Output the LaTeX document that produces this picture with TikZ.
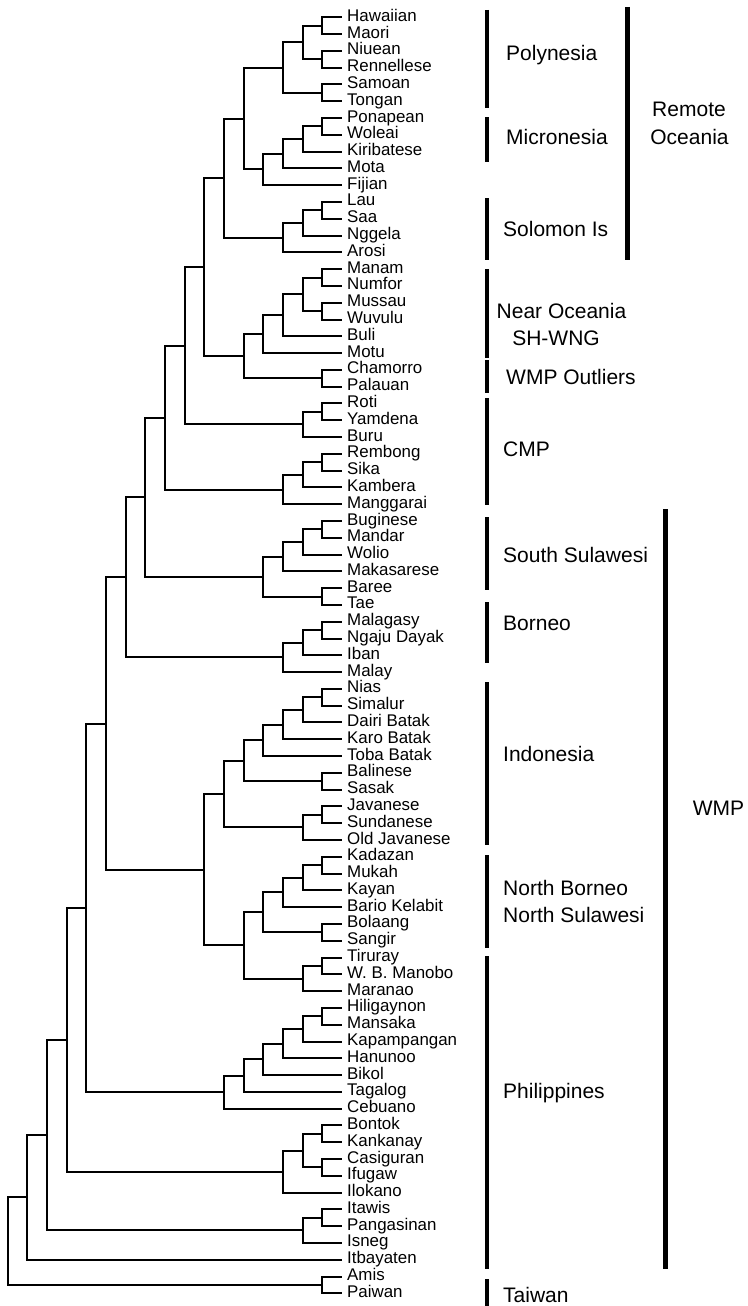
\documentclass[tikz,border=0pt]{standalone}
\usepackage{fontspec}
\setmainfont{Liberation Sans}
\usetikzlibrary{calc}
\newcommand\treejoin[4]{%
  \path let \p1=($(#3)!0.5!(#4)$) in coordinate (#1) at ({(7.5+19.67*#2)*1pt},\y1);
  \draw[branch] (#3) -| (#1) |- (#4);}
\begin{document}
\begin{tikzpicture}[x=1pt,y=-1pt,
  branch/.style={line width=2pt},
  leaf/.style={anchor=base west, inner sep=0pt, font=\fontsize{16.9}{16.9}\selectfont},
  grp/.style={anchor=base west, inner sep=0pt, font=\fontsize{21}{21}\selectfont},
  grpc/.style={anchor=base, inner sep=0pt, font=\fontsize{21}{21}\selectfont},
  bar/.style={line width=4.5pt}]
\fill[white] (0,0) rectangle (747,1306);
\useasboundingbox (0,0) rectangle (747,1306);

\foreach \nm [count=\i] in {Hawaiian,Maori,Niuean,Rennellese,Samoan,Tongan,Ponapean,Woleai,Kiribatese,Mota,Fijian,Lau,Saa,Nggela,Arosi,Manam,Numfor,Mussau,Wuvulu,Buli,Motu,Chamorro,Palauan,Roti,Yamdena,Buru,Rembong,Sika,Kambera,Manggarai,Buginese,Mandar,Wolio,Makasarese,Baree,Tae,Malagasy,Ngaju Dayak,Iban,Malay,Nias,Simalur,Dairi Batak,Karo Batak,Toba Batak,Balinese,Sasak,Javanese,Sundanese,Old Javanese,Kadazan,Mukah,Kayan,Bario Kelabit,Bolaang,Sangir,Tiruray,W. B. Manobo,Maranao,Hiligaynon,Mansaka,Kapampangan,Hanunoo,Bikol,Tagalog,Cebuano,Bontok,Kankanay,Casiguran,Ifugaw,Ilokano,Itawis,Pangasinan,Isneg,Itbayaten,Amis,Paiwan}{
  \coordinate (l\i) at (341.9,{17.3+16.79*(\i-1)});
  \node[leaf] (t\i) at (347,{21.3+16.79*(\i-1)}) {\nm};
}

% Polynesia
\treejoin{a1}{16}{l1}{l2}
\treejoin{a2}{16}{l3}{l4}
\treejoin{a3}{15}{a1}{a2}
\treejoin{a4}{16}{l5}{l6}
\treejoin{a5}{14}{a3}{a4}
% Micronesia
\treejoin{b1}{16}{l7}{l8}
\treejoin{b2}{15}{b1}{l9}
\treejoin{b3}{14}{b2}{l10}
\treejoin{b4}{13}{b3}{l11}
\treejoin{c1}{12}{a5}{b4}
% Solomon
\treejoin{s1}{16}{l12}{l13}
\treejoin{s2}{15}{s1}{l14}
\treejoin{s3}{14}{s2}{l15}
\treejoin{r1}{11}{c1}{s3}
% Near Oceania
\treejoin{n1}{16}{l16}{l17}
\treejoin{n2}{16}{l18}{l19}
\treejoin{n3}{15}{n1}{n2}
\treejoin{n4}{14}{n3}{l20}
\treejoin{n5}{13}{n4}{l21}
\treejoin{w1}{16}{l22}{l23}
\treejoin{n6}{12}{n5}{w1}
\treejoin{r2}{10}{r1}{n6}
% CMP
\treejoin{m1}{16}{l24}{l25}
\treejoin{m2}{15}{m1}{l26}
\treejoin{r3}{9}{r2}{m2}
\treejoin{m3}{16}{l27}{l28}
\treejoin{m4}{15}{m3}{l29}
\treejoin{m5}{14}{m4}{l30}
\treejoin{r4}{8}{r3}{m5}
% South Sulawesi
\treejoin{q1}{16}{l31}{l32}
\treejoin{q2}{15}{q1}{l33}
\treejoin{q3}{14}{q2}{l34}
\treejoin{q4}{16}{l35}{l36}
\treejoin{q5}{13}{q3}{q4}
\treejoin{r5}{7}{r4}{q5}
% Borneo
\treejoin{o1}{16}{l37}{l38}
\treejoin{o2}{15}{o1}{l39}
\treejoin{o3}{14}{o2}{l40}
\treejoin{r6}{6}{r5}{o3}
% Indonesia
\treejoin{i1}{16}{l41}{l42}
\treejoin{i2}{15}{i1}{l43}
\treejoin{i3}{14}{i2}{l44}
\treejoin{i4}{13}{i3}{l45}
\treejoin{i5}{16}{l46}{l47}
\treejoin{i6}{12}{i4}{i5}
\treejoin{i7}{16}{l48}{l49}
\treejoin{i8}{15}{i7}{l50}
\treejoin{i9}{11}{i6}{i8}
% North Borneo / North Sulawesi / S Philippines
\treejoin{k1}{16}{l51}{l52}
\treejoin{k2}{15}{k1}{l53}
\treejoin{k3}{14}{k2}{l54}
\treejoin{k4}{16}{l55}{l56}
\treejoin{k5}{13}{k3}{k4}
\treejoin{k6}{16}{l57}{l58}
\treejoin{k7}{15}{k6}{l59}
\treejoin{k8}{12}{k5}{k7}
\treejoin{i10}{10}{i9}{k8}
\treejoin{r7}{5}{r6}{i10}
% Philippines
\treejoin{p1}{16}{l60}{l61}
\treejoin{p2}{15}{p1}{l62}
\treejoin{p3}{14}{p2}{l63}
\treejoin{p4}{13}{p3}{l64}
\treejoin{p5}{12}{p4}{l65}
\treejoin{p6}{11}{p5}{l66}
\treejoin{r8}{4}{r7}{p6}
% Cordilleran
\treejoin{g1}{16}{l67}{l68}
\treejoin{g2}{16}{l69}{l70}
\treejoin{g3}{15}{g1}{g2}
\treejoin{g4}{14}{g3}{l71}
\treejoin{r9}{3}{r8}{g4}
\treejoin{h1}{16}{l72}{l73}
\treejoin{h2}{15}{h1}{l74}
\treejoin{r10}{2}{r9}{h2}
\treejoin{r11}{1}{r10}{l75}
\treejoin{t0}{16}{l76}{l77}
\treejoin{root}{0}{r11}{t0}

% group bars
\draw[bar] (487,10) -- (487,108);
\draw[bar] (487,117) -- (487,162);
\draw[bar] (487,198) -- (487,260);
\draw[bar] (487,269) -- (487,358);
\draw[bar] (487,360) -- (487,393);
\draw[bar] (487,398) -- (487,505);
\draw[bar] (487,517) -- (487,590);
\draw[bar] (487,602) -- (487,663);
\draw[bar] (487,682) -- (487,845);
\draw[bar] (487,855) -- (487,948);
\draw[bar] (487,956) -- (487,1269);
\draw[bar] (487,1279) -- (487,1306);
\draw[bar] (627.5,7) -- (627.5,260);
\draw[bar] (665.5,509) -- (665.5,1269);

% group labels
\node[grp] (gPoly) at (506,60.7) {Polynesia};
\node[grp] (gMicro) at (506,144) {Micronesia};
\node[grp] (gSol) at (503,236.7) {Solomon Is};
\node[grpc] (gNear) at (561.5,318.3) {Near Oceania};
\node[grpc] (gSH) at (556,345.7) {SH-WNG};
\node[grp] (gOut) at (506,384) {WMP Outliers};
\node[grp] (gCMP) at (503,456.7) {CMP};
\node[grp] (gSS) at (503,562.7) {South Sulawesi};
\node[grp] (gBor) at (503,630) {Borneo};
\node[grp] (gIndo) at (503,761.7) {Indonesia};
\node[grp] (gNB) at (503,895) {North Borneo};
\node[grp] (gNS) at (503,922.7) {North Sulawesi};
\node[grp] (gPhil) at (503,1098) {Philippines};
\node[grp] (gTai) at (503,1302.7) {Taiwan};
\node[grpc] (gRem) at (689,116) {Remote};
\node[grpc] (gOce) at (689.5,144) {Oceania};
\node[grp] (gWMP) at (692.7,815) {WMP};
\end{tikzpicture}
\end{document}
